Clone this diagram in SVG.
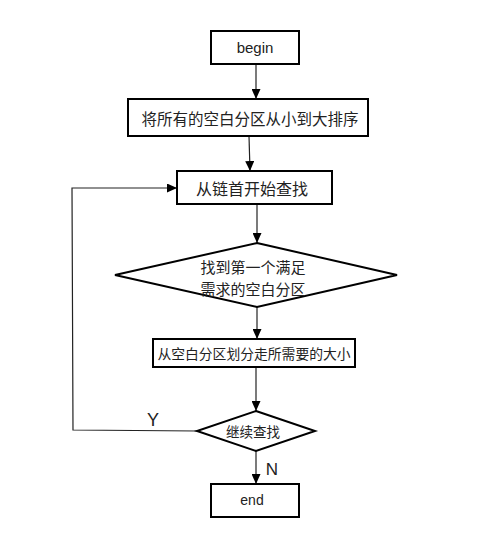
<svg xmlns="http://www.w3.org/2000/svg" width="482" height="544" viewBox="0 0 482 544">
<defs>
<marker id="arr" markerUnits="userSpaceOnUse" markerWidth="10" markerHeight="9" refX="10" refY="4.5" orient="auto">
<path d="M0,0 L10,4.5 L0,9 z" fill="#000"/>
</marker>
<style>
.box{fill:#fff;stroke:#000;stroke-width:2}
.t{font-family:"Noto Sans CJK SC","Liberation Sans",sans-serif;fill:#222;text-anchor:middle;dominant-baseline:central}
.l{font-family:"Liberation Sans",sans-serif;fill:#222;text-anchor:middle;dominant-baseline:central}
.c{fill:none;stroke:#222;stroke-width:1.2}
</style>
</defs>
<rect width="482" height="544" fill="#fff"/>
<g id="connectors">
<line class="c" x1="256" y1="64" x2="256" y2="99" marker-end="url(#arr)"/>
<line class="c" x1="249" y1="136" x2="250" y2="171" marker-end="url(#arr)"/>
<line class="c" x1="257" y1="204" x2="257" y2="243" marker-end="url(#arr)"/>
<line class="c" x1="257" y1="307" x2="257" y2="339" marker-end="url(#arr)"/>
<line class="c" x1="256" y1="367" x2="256" y2="411" marker-end="url(#arr)"/>
<line class="c" x1="256" y1="451" x2="256" y2="484" marker-end="url(#arr)"/>
<polyline class="c" points="197,431 73,430 72,188 177,188" marker-end="url(#arr)"/>
<text class="l" x="153" y="420" font-size="18">Y</text>
<text class="l" x="272" y="469.5" font-size="17">N</text>
</g>
<g id="begin">
<rect class="box" x="211" y="31" width="88" height="33"/>
<text class="l" x="255" y="47" font-size="15">begin</text>
</g>
<g id="sort">
<rect class="box" x="128" y="99" width="240" height="37"/>
<text class="t" x="250" y="117.5" font-size="15.5">将所有的空白分区从小到大排序</text>
</g>
<g id="search">
<rect class="box" x="177" y="171" width="155" height="33"/>
<text class="t" x="252" y="187.5" font-size="16">从链首开始查找</text>
</g>
<g id="find">
<polygon class="box" points="257,243 397,275 257,307 115,275"/>
<text class="t" x="253" y="266.2" font-size="15">找到第一个满足</text>
<text class="t" x="253" y="288.2" font-size="15">需求的空白分区</text>
</g>
<g id="alloc">
<rect class="box" x="153" y="339" width="202" height="28"/>
<text class="t" x="254" y="353" font-size="13.8">从空白分区划分走所需要的大小</text>
</g>
<g id="continue">
<polygon class="box" points="256,411 315,431 256,451 197,431"/>
<text class="t" x="253" y="431" font-size="13.5">继续查找</text>
</g>
<g id="end">
<rect class="box" x="211" y="484" width="88" height="33"/>
<text class="l" x="252" y="500" font-size="14">end</text>
</g>
</svg>
